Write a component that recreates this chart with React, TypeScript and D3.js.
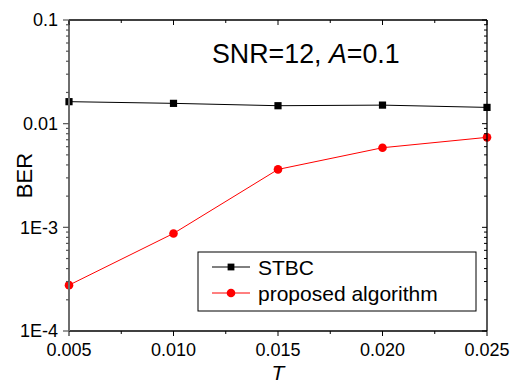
import React from 'react'
import * as d3 from 'd3'

const tValues = [0.005, 0.010, 0.015, 0.020, 0.025]
const stbcBer = [0.0163, 0.0157, 0.0149, 0.0151, 0.01435]
const proposedBer = [0.000277, 0.000873, 0.00362, 0.00586, 0.00738]
const xTickLabels = ['0.005', '0.010', '0.015', '0.020', '0.025']
const yTickValues = [0.0001, 0.001, 0.01, 0.1]
const yTickLabels = ['1E-4', '1E-3', '0.01', '0.1']

const width = 518
const height = 385
const margin = { top: 20, right: 31, bottom: 54, left: 69 }
const font = '"Liberation Sans", Arial, Helvetica, sans-serif'

const App = () => {
  const x = d3.scaleLinear()
    .domain([0.005, 0.025])
    .range([margin.left, width - margin.right])
  const y = d3.scaleLog()
    .domain([0.0001, 0.1])
    .range([height - margin.bottom, margin.top])

  const left = margin.left
  const right = width - margin.right
  const top = margin.top
  const bottom = height - margin.bottom

  const line = d3.line<number>()
    .x((d, i) => x(tValues[i]))
    .y(d => y(d))

  // minor ticks: 2..9 in every decade
  const minorY: number[] = []
  for (let e = -4; e < -1; e++) {
    for (let k = 2; k <= 9; k++) minorY.push(k * Math.pow(10, e))
  }
  const minorX = [0.0075, 0.0125, 0.0175, 0.0225]

  return (
    <svg width={width} height={height} style={{ position: 'absolute', left: 0, top: 0 }} fontFamily={font}>
      <rect width={width} height={height} fill="#fff" />

      {/* lines */}
      <path d={line(stbcBer) || ''} fill="none" stroke="#000" strokeWidth={1} />
      <path d={line(proposedBer) || ''} fill="none" stroke="#ff0000" strokeWidth={1} />
      {stbcBer.map((v, i) => (
        <rect key={'s' + i} x={x(tValues[i]) - 3.6} y={y(v) - 3.6} width={7.2} height={7.2} fill="#000" />
      ))}
      {proposedBer.map((v, i) => (
        <circle key={'p' + i} cx={x(tValues[i])} cy={y(v)} r={4.3} fill="#ff0000" />
      ))}

      {/* frame */}
      <line x1={left} x2={right} y1={top} y2={top} stroke="#000" strokeWidth={1.3} />
      <line x1={right} x2={right} y1={top} y2={bottom} stroke="#000" strokeWidth={1.3} />
      <line x1={left} x2={right} y1={bottom} y2={bottom} stroke="#000" strokeWidth={1.3} />
      <line x1={left} x2={left} y1={top} y2={bottom} stroke="#6e6e6e" strokeWidth={2} />

      {/* x ticks */}
      {tValues.map((t, i) => (
        <g key={'xt' + i}>
          <line x1={x(t)} x2={x(t)} y1={bottom} y2={bottom + 5} stroke="#000" />
          <line x1={x(t)} x2={x(t)} y1={top} y2={top + 5} stroke="#000" />
          <text x={x(t)} y={bottom + 25} textAnchor="middle" fontSize={18} fill="#000">{xTickLabels[i]}</text>
        </g>
      ))}
      {minorX.map((t, i) => (
        <g key={'xm' + i}>
          <line x1={x(t)} x2={x(t)} y1={bottom} y2={bottom + 3} stroke="#000" />
          <line x1={x(t)} x2={x(t)} y1={top} y2={top + 3} stroke="#000" />
        </g>
      ))}

      {/* y ticks */}
      {yTickValues.map((v, i) => (
        <g key={'yt' + i}>
          <line x1={left - 6} x2={left} y1={y(v)} y2={y(v)} stroke="#555" strokeWidth={1.2} />
          <line x1={right - 5} x2={right} y1={y(v)} y2={y(v)} stroke="#000" />
          <text x={left - 11} y={y(v)} dy="0.36em" textAnchor="end" fontSize={18} fill="#000">{yTickLabels[i]}</text>
        </g>
      ))}
      {minorY.map((v, i) => (
        <g key={'ym' + i}>
          <line x1={left - 3} x2={left} y1={y(v)} y2={y(v)} stroke="#555" strokeWidth={1.2} />
          <line x1={right - 3} x2={right} y1={y(v)} y2={y(v)} stroke="#000" />
        </g>
      ))}

      {/* axis titles */}
      <text transform={`translate(32,${(top + bottom) / 2}) rotate(-90)`} textAnchor="middle" fontSize={22} fill="#000">BER</text>
      <text x={(left + right) / 2} y={380} textAnchor="middle" fontSize={21} fontStyle="italic" fill="#000">T</text>

      {/* annotation */}
      <text x={212} y={63} fontSize={26.8} fill="#000">
        SNR=12, <tspan fontStyle="italic">A</tspan>=0.1
      </text>

      {/* legend */}
      <rect x={198} y={252} width={278} height={59} fill="#fff" stroke="#000" strokeWidth={1} />
      <line x1={212} x2={250} y1={267} y2={267} stroke="#000" />
      <rect x={231 - 3.4} y={267 - 3.4} width={6.8} height={6.8} fill="#000" />
      <text x={258} y={267} dy="0.36em" fontSize={21} fill="#000">STBC</text>
      <line x1={212} x2={250} y1={293} y2={293} stroke="#ff0000" />
      <circle cx={231} cy={293} r={4.3} fill="#ff0000" />
      <text x={258} y={293} dy="0.36em" fontSize={21} fill="#000">proposed algorithm</text>
    </svg>
  )
}

export default App
